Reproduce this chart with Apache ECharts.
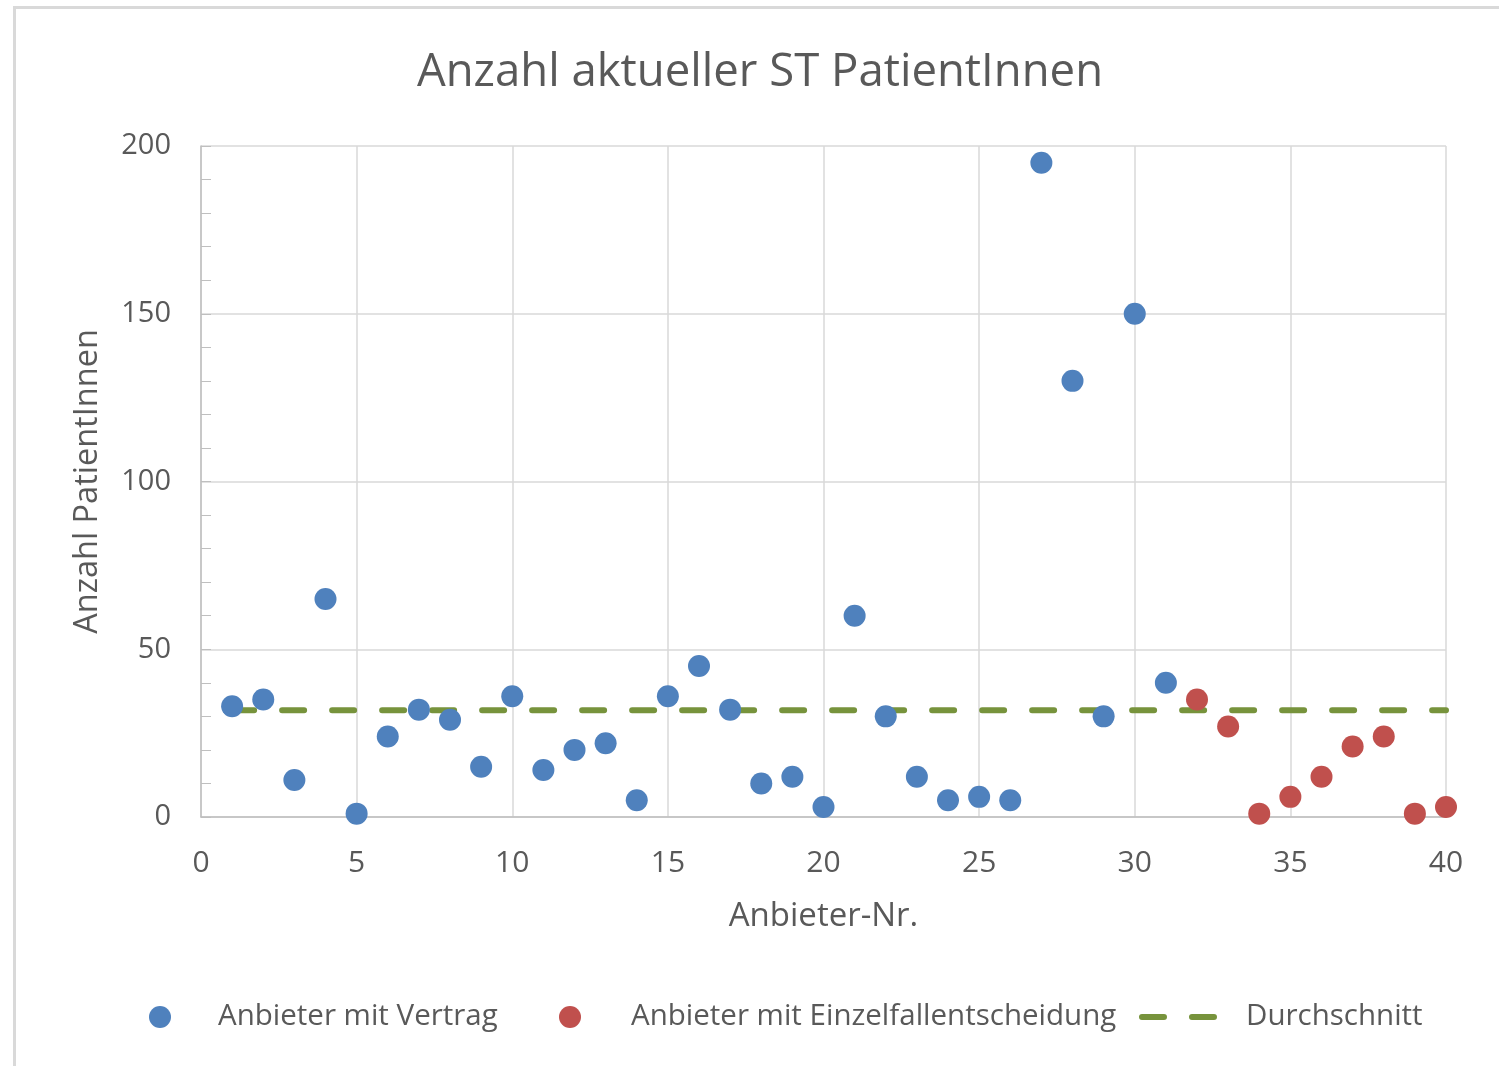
<!DOCTYPE html>
<html>
<head>
<meta charset="utf-8">
<script src="https://cdn.jsdelivr.net/npm/echarts@6/dist/echarts.min.js"></script>
<style>
  html, body { margin: 0; padding: 0; background: #fff; }
  .frame {
    position: absolute; left: 13px; top: 6px;
    width: 1600px; height: 1200px;
    border: 3px solid #d9d9d9; box-sizing: border-box;
  }
  #chart { position: absolute; left: 0; top: 0; width: 1499px; height: 1066px; }
</style>
</head>
<body>
<div class="frame"></div>
<div id="chart"></div>
<script>
// Anbieter-Nr. und Anzahl PatientInnen
const vertragNr = [1, 2, 3, 4, 5, 6, 7, 8, 9, 10, 11, 12, 13, 14, 15, 16, 17, 18, 19, 20,
  21, 22, 23, 24, 25, 26, 27, 28, 29, 30, 31];
const vertragWerte = [33, 35, 11, 65, 1, 24, 32, 29, 15, 36, 14, 20, 22, 5, 36, 45, 32, 10, 12, 3,
  60, 30, 12, 5, 6, 5, 195, 130, 30, 150, 40];
const einzelNr = [32, 33, 34, 35, 36, 37, 38, 39, 40];
const einzelWerte = [35, 27, 1, 6, 12, 21, 24, 1, 3];
const durchschnittNr = [1, 40];
const durchschnitt = 31.8;

const grau = "#595959";
const gruen = "#77933c";
const schrift = "'Open Sans', sans-serif";

const chart = echarts.init(document.getElementById("chart"));
chart.setOption({
  animation: false,
  title: {
    text: "Anzahl aktueller ST PatientInnen",
    left: 755, textAlign: "center",
    top: 45,
    textStyle: { color: grau, fontSize: 45.5, fontWeight: "normal", fontFamily: schrift }
  },
  grid: { left: 201, right: 53, top: 146, bottom: 249 },
  xAxis: {
    type: "value",
    min: 0, max: 40, interval: 5,
    name: "Anbieter-Nr.",
    nameLocation: "middle",
    nameGap: 83,
    nameTextStyle: { color: grau, fontSize: 33, fontFamily: schrift },
    axisLine: { show: true, onZero: false, lineStyle: { color: "#bfbfbf", width: 1.5 } },
    axisTick: { show: false },
    axisLabel: { color: grau, fontSize: 30, fontFamily: schrift, margin: 31 },
    splitLine: { show: true, lineStyle: { color: "#d9d9d9", width: 1.5 } }
  },
  yAxis: {
    type: "value",
    min: 0, max: 200, interval: 50,
    name: "Anzahl PatientInnen",
    nameLocation: "middle",
    nameGap: 97,
    nameTextStyle: { color: grau, fontSize: 32.5, fontFamily: schrift },
    axisLine: { show: true, lineStyle: { color: "#bfbfbf", width: 1.5 } },
    axisTick: { show: true, inside: true, length: 10, lineStyle: { color: "#bfbfbf" } },
    minorTick: { show: true, splitNumber: 5, length: 10, lineStyle: { color: "#bfbfbf", width: 1 } },
    axisLabel: { color: grau, fontSize: 29, fontFamily: schrift, margin: 30 },
    splitLine: { show: true, lineStyle: { color: "#d9d9d9", width: 1.5 } }
  },
  legend: [
    {
      data: ["Anbieter mit Vertrag"],
      left: 144, top: 997,
      itemWidth: 22, itemHeight: 22,
      textStyle: { color: grau, fontSize: 29.5, fontFamily: schrift, padding: [0, 0, 0, 42] }
    },
    {
      data: ["Anbieter mit Einzelfallentscheidung"],
      left: 554, top: 997,
      itemWidth: 22, itemHeight: 22,
      textStyle: { color: grau, fontSize: 29.5, fontFamily: schrift, padding: [0, 0, 0, 45] }
    },
    {
      data: [{ name: "Durchschnitt", icon: "path://M3,0h22a3,3 0 0 1 0,6h-22a3,3 0 0 1 0,-6z M53,0h22a3,3 0 0 1 0,6h-22a3,3 0 0 1 0,-6z" }],
      left: 1134, top: 997,
      itemWidth: 78, itemHeight: 6,
      textStyle: { color: grau, fontSize: 29.5, fontFamily: schrift, padding: [0, 0, 0, 24] }
    }
  ],
  series: [
    {
      name: "Durchschnitt",
      type: "line",
      data: durchschnittNr.map(x => [x, durchschnitt]),
      showSymbol: false,
      symbol: "none",
      z: 1,
      lineStyle: { color: gruen, width: 6, type: [22, 28], cap: "round" },
      itemStyle: { color: gruen }
    },
    {
      name: "Anbieter mit Vertrag",
      type: "scatter",
      symbolSize: 22,
      z: 3,
      itemStyle: { color: "#4f81bd", opacity: 1 },
      data: vertragNr.map((x, i) => [x, vertragWerte[i]])
    },
    {
      name: "Anbieter mit Einzelfallentscheidung",
      type: "scatter",
      symbolSize: 22,
      z: 3,
      itemStyle: { color: "#c0504d", opacity: 1 },
      data: einzelNr.map((x, i) => [x, einzelWerte[i]])
    }
  ]
});
</script>
</body>
</html>
